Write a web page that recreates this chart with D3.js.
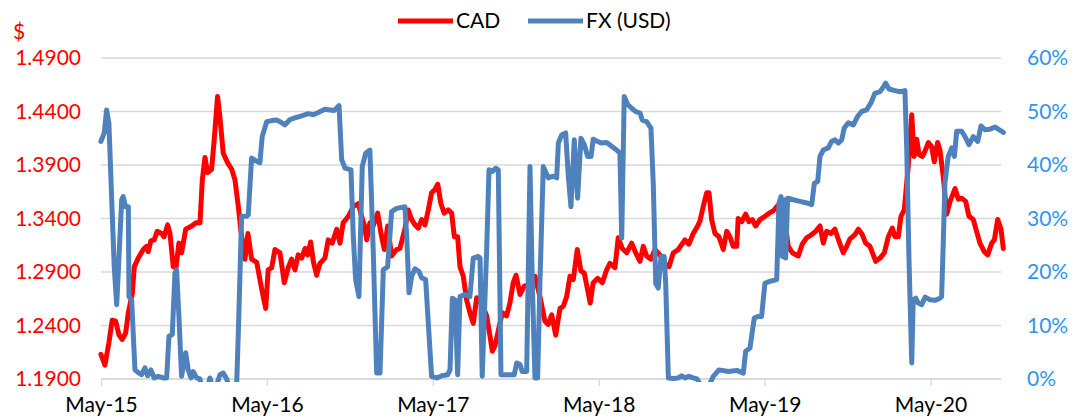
<!DOCTYPE html>
<html>
<head>
<meta charset="utf-8">
<script src="https://cdn.jsdelivr.net/npm/d3@7"></script>
<style>
  body { margin: 0; background: #fff; }
  #chart { width: 1080px; height: 420px; }
  text { font-family: Lato, "Open Sans", sans-serif; }
</style>
</head>
<body>
<div id="chart"></div>
<script>
// CAD rate as [decimal year, CAD per USD]
const cad = [
  [2015.333,1.213],[2015.357,1.203],[2015.381,1.224],[2015.401,1.245],[2015.422,1.244],[2015.442,1.231],[2015.461,1.227],[2015.482,1.233],
  [2015.498,1.252],[2015.522,1.270],[2015.534,1.295],[2015.558,1.303],[2015.588,1.311],[2015.608,1.314],[2015.618,1.309],[2015.634,1.319],
  [2015.654,1.320],[2015.672,1.328],[2015.699,1.326],[2015.713,1.323],[2015.735,1.334],[2015.749,1.326],[2015.769,1.295],[2015.785,1.294],
  [2015.803,1.317],[2015.819,1.308],[2015.844,1.330],[2015.880,1.333],[2015.906,1.336],[2015.930,1.336],[2015.944,1.376],[2015.960,1.397],
  [2015.976,1.383],[2016.000,1.386],[2016.016,1.414],[2016.036,1.454],[2016.050,1.435],[2016.070,1.401],[2016.097,1.392],[2016.121,1.386],
  [2016.141,1.376],[2016.161,1.351],[2016.177,1.328],[2016.201,1.302],[2016.219,1.326],[2016.241,1.302],[2016.272,1.299],[2016.302,1.274],
  [2016.326,1.256],[2016.341,1.292],[2016.362,1.294],[2016.382,1.311],[2016.412,1.308],[2016.438,1.280],[2016.462,1.294],[2016.482,1.302],
  [2016.502,1.292],[2016.522,1.306],[2016.543,1.303],[2016.563,1.312],[2016.579,1.306],[2016.597,1.318],[2016.613,1.300],[2016.633,1.287],
  [2016.653,1.298],[2016.683,1.303],[2016.703,1.320],[2016.727,1.317],[2016.754,1.330],[2016.774,1.317],[2016.793,1.336],[2016.824,1.342],
  [2016.854,1.351],[2016.884,1.354],[2016.904,1.342],[2016.920,1.334],[2016.935,1.320],[2016.954,1.336],[2016.974,1.333],[2017.001,1.345],
  [2017.021,1.326],[2017.041,1.311],[2017.061,1.333],[2017.085,1.305],[2017.115,1.311],[2017.135,1.312],[2017.165,1.330],[2017.185,1.348],
  [2017.206,1.339],[2017.226,1.334],[2017.246,1.331],[2017.266,1.339],[2017.286,1.334],[2017.306,1.348],[2017.326,1.364],[2017.346,1.367],
  [2017.363,1.372],[2017.382,1.354],[2017.402,1.345],[2017.426,1.348],[2017.447,1.345],[2017.463,1.323],[2017.483,1.323],[2017.497,1.295],
  [2017.517,1.286],[2017.537,1.264],[2017.557,1.252],[2017.577,1.242],[2017.598,1.266],[2017.628,1.261],[2017.658,1.249],[2017.678,1.230],
  [2017.692,1.216],[2017.708,1.221],[2017.728,1.235],[2017.752,1.252],[2017.778,1.249],[2017.798,1.261],[2017.818,1.280],[2017.835,1.287],
  [2017.859,1.269],[2017.885,1.277],[2017.919,1.278],[2017.949,1.286],[2017.979,1.267],[2018.009,1.244],[2018.029,1.241],[2018.050,1.250],
  [2018.074,1.231],[2018.100,1.256],[2018.120,1.258],[2018.140,1.267],[2018.160,1.286],[2018.180,1.283],[2018.204,1.311],[2018.226,1.291],
  [2018.246,1.289],[2018.267,1.273],[2018.282,1.261],[2018.300,1.280],[2018.327,1.284],[2018.355,1.280],[2018.381,1.292],[2018.401,1.298],
  [2018.431,1.294],[2018.451,1.322],[2018.475,1.312],[2018.502,1.308],[2018.532,1.317],[2018.556,1.308],[2018.582,1.300],[2018.602,1.314],
  [2018.622,1.305],[2018.648,1.302],[2018.672,1.311],[2018.702,1.306],[2018.728,1.298],[2018.757,1.295],[2018.783,1.308],[2018.813,1.311],
  [2018.853,1.320],[2018.877,1.316],[2018.903,1.326],[2018.930,1.333],[2018.944,1.338],[2018.963,1.351],[2018.984,1.364],[2018.998,1.364],
  [2019.014,1.339],[2019.034,1.326],[2019.058,1.323],[2019.084,1.311],[2019.105,1.328],[2019.124,1.323],[2019.144,1.314],[2019.165,1.314],
  [2019.174,1.340],[2019.195,1.337],[2019.219,1.344],[2019.239,1.337],[2019.259,1.339],[2019.279,1.333],[2019.305,1.339],[2019.335,1.342],
  [2019.360,1.345],[2019.385,1.347],[2019.412,1.352],[2019.426,1.339],[2019.456,1.336],[2019.476,1.314],[2019.500,1.308],[2019.536,1.305],
  [2019.560,1.316],[2019.587,1.322],[2019.617,1.325],[2019.641,1.328],[2019.667,1.333],[2019.687,1.317],[2019.707,1.328],[2019.733,1.326],
  [2019.757,1.330],[2019.781,1.319],[2019.807,1.308],[2019.828,1.314],[2019.848,1.321],[2019.878,1.325],[2019.898,1.330],[2019.922,1.325],
  [2019.942,1.317],[2019.968,1.314],[2020.003,1.300],[2020.029,1.303],[2020.055,1.308],[2020.079,1.323],[2020.103,1.331],[2020.119,1.323],
  [2020.139,1.323],[2020.155,1.342],[2020.175,1.348],[2020.199,1.389],[2020.220,1.437],[2020.234,1.398],[2020.250,1.414],[2020.264,1.400],
  [2020.284,1.398],[2020.300,1.403],[2020.320,1.411],[2020.340,1.407],[2020.356,1.393],[2020.376,1.411],[2020.390,1.404],[2020.410,1.379],
  [2020.431,1.344],[2020.451,1.356],[2020.481,1.368],[2020.501,1.358],[2020.521,1.359],[2020.545,1.356],[2020.565,1.342],[2020.591,1.339],
  [2020.611,1.328],[2020.631,1.317],[2020.657,1.309],[2020.678,1.306],[2020.702,1.317],[2020.718,1.320],[2020.738,1.339],[2020.758,1.330],
  [2020.772,1.312]
];

// FX (USD) share in percent, [decimal year, %]; a few dips go below the axis and get clipped
const fx = [
  [2015.333,44.4],[2015.353,46.0],[2015.367,50.3],[2015.381,47.8],[2015.398,33.5],[2015.413,21.0],[2015.428,13.9],[2015.442,22.9],
  [2015.458,33.5],[2015.467,34.1],[2015.482,32.2],[2015.498,32.2],[2015.502,15.4],[2015.518,14.8],[2015.538,1.7],[2015.558,1.2],
  [2015.578,0.8],[2015.598,2.1],[2015.614,0.6],[2015.634,1.7],[2015.654,0.2],[2015.678,0.5],[2015.709,0.2],[2015.729,0.2],
  [2015.743,8.0],[2015.763,8.3],[2015.779,19.8],[2015.789,20.4],[2015.803,11.7],[2015.819,0.5],[2015.844,4.9],[2015.859,1.7],
  [2015.876,0.2],[2015.889,1.4],[2015.910,0.2],[2015.930,0.0],[2015.948,-3.0],[2015.972,-2.0],[2015.990,0.2],[2016.008,-2.0],
  [2016.032,-1.0],[2016.050,0.8],[2016.070,1.1],[2016.091,0.0],[2016.117,-3.0],[2016.151,-1.0],[2016.161,8.6],[2016.181,30.4],
  [2016.211,30.4],[2016.221,30.7],[2016.241,41.3],[2016.272,40.7],[2016.291,40.4],[2016.305,45.3],[2016.332,48.1],[2016.362,48.3],
  [2016.392,48.4],[2016.412,48.1],[2016.442,47.5],[2016.472,48.5],[2016.502,48.8],[2016.543,49.2],[2016.583,49.6],[2016.613,49.4],
  [2016.643,49.8],[2016.683,50.4],[2016.713,50.3],[2016.739,50.2],[2016.768,51.1],[2016.784,41.0],[2016.804,39.4],[2016.840,39.1],
  [2016.854,26.6],[2016.868,18.6],[2016.888,15.4],[2016.908,39.7],[2016.929,42.2],[2016.954,42.8],[2016.974,24.2],[2016.995,1.1],
  [2017.015,1.1],[2017.035,20.4],[2017.061,21.0],[2017.085,31.3],[2017.115,31.9],[2017.165,32.2],[2017.176,26.6],[2017.190,16.1],
  [2017.206,19.2],[2017.226,20.6],[2017.250,20.1],[2017.266,18.9],[2017.290,18.6],[2017.306,10.5],[2017.326,0.5],[2017.357,0.2],
  [2017.387,0.6],[2017.423,0.8],[2017.437,1.7],[2017.451,15.1],[2017.467,14.8],[2017.483,0.8],[2017.497,15.4],[2017.527,15.8],
  [2017.557,15.4],[2017.577,22.6],[2017.607,22.9],[2017.618,22.6],[2017.631,0.5],[2017.658,24.2],[2017.672,39.1],[2017.692,38.8],
  [2017.712,39.4],[2017.728,39.1],[2017.744,0.8],[2017.798,0.8],[2017.824,0.8],[2017.839,3.0],[2017.859,2.7],[2017.872,1.4],
  [2017.899,1.4],[2017.919,39.7],[2017.933,17.9],[2017.949,0.2],[2017.965,0.2],[2017.979,17.9],[2017.999,39.7],[2018.029,37.6],
  [2018.059,37.9],[2018.080,37.6],[2018.090,44.1],[2018.110,45.6],[2018.134,46.0],[2018.150,37.9],[2018.166,32.2],[2018.186,44.7],
  [2018.206,33.8],[2018.226,45.0],[2018.246,43.8],[2018.267,41.6],[2018.287,41.6],[2018.300,44.8],[2018.327,44.4],[2018.351,44.1],
  [2018.381,44.2],[2018.411,43.5],[2018.441,42.8],[2018.461,42.2],[2018.472,26.3],[2018.487,52.8],[2018.508,51.3],[2018.532,50.6],
  [2018.556,50.0],[2018.582,49.7],[2018.596,48.4],[2018.622,48.1],[2018.648,46.9],[2018.662,36.6],[2018.677,17.9],[2018.692,17.0],
  [2018.709,22.9],[2018.728,22.9],[2018.737,17.9],[2018.753,0.2],[2018.783,0.1],[2018.813,0.2],[2018.833,0.6],[2018.853,0.2],
  [2018.877,0.5],[2018.903,0.2],[2018.926,0.0],[2018.954,-1.5],[2018.994,-1.5],[2019.024,0.5],[2019.058,1.7],[2019.114,1.4],
  [2019.165,1.6],[2019.205,1.1],[2019.219,5.2],[2019.245,5.8],[2019.271,11.4],[2019.295,11.7],[2019.315,11.7],[2019.335,17.9],
  [2019.360,18.2],[2019.406,18.6],[2019.420,32.9],[2019.432,34.1],[2019.440,22.9],[2019.452,33.5],[2019.460,22.6],[2019.472,33.8],
  [2019.506,33.5],[2019.546,33.2],[2019.587,32.9],[2019.617,32.6],[2019.633,36.6],[2019.653,36.9],[2019.667,41.6],[2019.687,42.8],
  [2019.717,43.2],[2019.737,44.4],[2019.757,44.7],[2019.777,44.1],[2019.798,44.7],[2019.813,46.9],[2019.838,47.9],[2019.868,47.5],
  [2019.894,49.1],[2019.918,50.0],[2019.948,50.3],[2019.974,51.6],[2019.998,53.4],[2020.029,53.7],[2020.049,54.6],[2020.063,55.3],
  [2020.083,54.2],[2020.119,53.9],[2020.149,53.7],[2020.179,53.9],[2020.190,42.8],[2020.203,22.9],[2020.220,3.0],[2020.229,14.8],
  [2020.244,15.1],[2020.259,14.2],[2020.280,13.9],[2020.300,15.3],[2020.330,14.8],[2020.360,14.7],[2020.390,15.1],[2020.400,15.4],
  [2020.410,25.4],[2020.420,36.6],[2020.440,41.6],[2020.461,43.2],[2020.477,41.6],[2020.491,46.3],[2020.521,46.3],[2020.541,45.3],
  [2020.565,43.8],[2020.591,45.3],[2020.618,44.4],[2020.637,47.3],[2020.661,46.6],[2020.692,46.7],[2020.722,47.1],[2020.746,46.6],
  [2020.772,46.1]
];

// axis ticks
const xTickYears = [2015, 2016, 2017, 2018, 2019, 2020];
const xTickLabels = ["May-15", "May-16", "May-17", "May-18", "May-19", "May-20"];
const leftTicks = [1.19, 1.24, 1.29, 1.34, 1.39, 1.44, 1.49];
const rightTicks = [0, 10, 20, 30, 40, 50, 60];

const width = 1080, height = 420;
const plot = { left: 101, right: 1001, top: 58, bottom: 379 };

const svg = d3.select("#chart").append("svg")
  .attr("width", width).attr("height", height);

// May of each year sits on a tick, so x runs in decimal years from May-15
const may = 4 / 12;
const x = d3.scaleLinear().domain([2015 + may, 2020.758]).range([plot.left, plot.right]);
const yLeft = d3.scaleLinear().domain([1.19, 1.49]).range([plot.bottom, plot.top]);
const yRight = d3.scaleLinear().domain([0, 60]).range([plot.bottom, plot.top]);

// gridlines
svg.append("g").selectAll("line").data(leftTicks).join("line")
  .attr("x1", plot.left).attr("x2", plot.right)
  .attr("y1", d => yLeft(d)).attr("y2", d => yLeft(d))
  .attr("stroke", "#d9d9d9").attr("stroke-width", 1.3);

// bottom axis with tick marks hanging down
const xAxis = d3.axisBottom(x)
  .tickValues(xTickYears.map(yr => yr + may))
  .tickFormat((d, i) => xTickLabels[i])
  .tickSizeInner(7).tickSizeOuter(0).tickPadding(11);
const gx = svg.append("g").attr("transform", `translate(0,${plot.bottom})`).call(xAxis);
gx.select(".domain").attr("stroke", "#d9d9d9").attr("stroke-width", 1.3)
  .attr("d", `M${plot.left},0H${plot.right}`);
gx.selectAll(".tick line").attr("stroke", "#d9d9d9").attr("stroke-width", 1.3);
gx.selectAll(".tick text").attr("fill", "#000").style("font-size", "21px")
  .style("font-family", "Lato, sans-serif");

// left axis, red
const yAxisL = d3.axisLeft(yLeft).tickValues(leftTicks).tickFormat(d3.format(".4f")).tickSize(0).tickPadding(20);
const gl = svg.append("g").attr("transform", `translate(${plot.left},0)`).call(yAxisL);
gl.select(".domain").remove();
gl.selectAll(".tick text").attr("fill", "#ff0000").style("font-size", "21px")
  .style("font-family", "Lato, sans-serif");

// right axis, blue
const yAxisR = d3.axisRight(yRight).tickValues(rightTicks).tickFormat(d => d + "%").tickSize(0).tickPadding(26);
const gr = svg.append("g").attr("transform", `translate(${plot.right},0)`).call(yAxisR);
gr.select(".domain").remove();
gr.selectAll(".tick text").attr("fill", "#2f95f0").style("font-size", "21px")
  .style("font-family", "Lato, sans-serif");

// "$" unit label
svg.append("text").attr("x", 13).attr("y", 32).attr("dy", "0.35em")
  .attr("fill", "#ff0000").style("font-size", "21px").text("$");

// clip so the dips below 0% disappear like in the original
svg.append("clipPath").attr("id", "plotClip").append("rect")
  .attr("x", plot.left - 10).attr("y", plot.top - 30)
  .attr("width", plot.right - plot.left + 20).attr("height", plot.bottom - plot.top + 33);

const cadLine = d3.line().x(d => x(d[0])).y(d => yLeft(d[1]));
const fxLine = d3.line().x(d => x(d[0])).y(d => yRight(d[1]));

const lines = svg.append("g").attr("clip-path", "url(#plotClip)");
lines.append("path").attr("d", cadLine(cad))
  .attr("fill", "none").attr("stroke", "#ff0000").attr("stroke-width", 5)
  .attr("stroke-linejoin", "round").attr("stroke-linecap", "round");
lines.append("path").attr("d", fxLine(fx))
  .attr("fill", "none").attr("stroke", "#4f81bd").attr("stroke-width", 5)
  .attr("stroke-linejoin", "round").attr("stroke-linecap", "round");

// legend
const legend = [
  { name: "CAD", color: "#ff0000", x: 398 },
  { name: "FX (USD)", color: "#4f81bd", x: 528 }
];
const lg = svg.append("g").selectAll("g").data(legend).join("g")
  .attr("transform", d => `translate(${d.x},21)`);
lg.append("line").attr("x1", 0).attr("x2", 55).attr("y1", 0).attr("y2", 0)
  .attr("stroke", d => d.color).attr("stroke-width", 5);
lg.append("text").attr("x", 58).attr("dy", "0.35em")
  .style("font-size", "21px").attr("fill", "#000").text(d => d.name);
</script>
</body>
</html>
